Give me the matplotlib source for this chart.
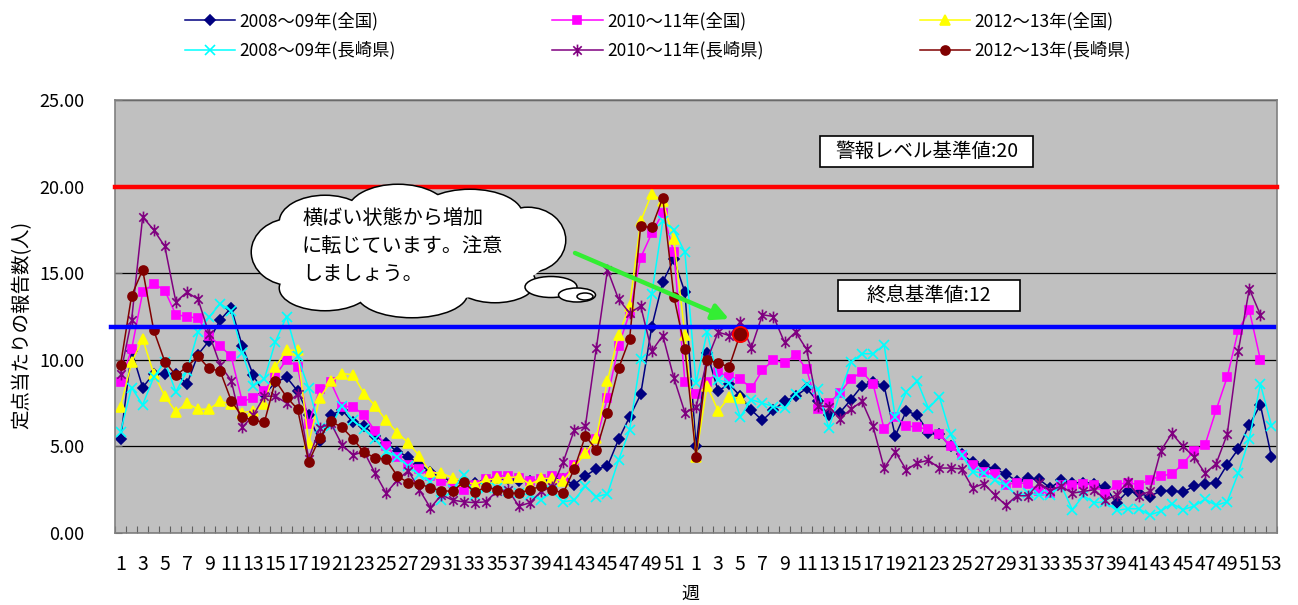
import matplotlib
matplotlib.use('Agg')
import matplotlib.pyplot as plt
from matplotlib.patches import Ellipse, Rectangle
from matplotlib.path import Path
import numpy as np

plt.rcParams['font.family'] = ['Noto Sans CJK JP', 'DejaVu Sans']

# 週 (2シーズン分: 52週 + 53週)
weeks = list(range(1, 53)) + list(range(1, 54))

# 定点当たりの報告数
zenkoku_0809 = [5.4, 10.5, 8.4, 9.2, 9.2, 9.2, 8.6, 10.3, 11.1, 12.3,
                13.0, 10.8, 9.1, 8.0, 8.7, 9.0, 8.2, 6.8, 5.3, 6.8,
                7.1, 6.4, 6.2, 5.6, 5.2, 4.7, 4.4, 4.0, 3.5, 3.2,
                3.0, 2.9, 2.9, 3.0, 3.2, 3.1, 3.0, 3.0, 3.0, 3.1,
                3.1, 2.8, 3.3, 3.7, 3.85, 5.4, 6.7, 8.0, 11.9, 14.5,
                15.8, 13.9, 5.0, 10.4, 8.2, 8.6, 7.9, 7.1, 6.5, 7.1,
                7.6, 7.9, 8.35, 7.6, 6.8, 6.95, 7.7, 8.5, 8.7, 8.5,
                5.6, 7.05, 6.8, 5.8, 5.7, 5.0, 4.55, 4.1, 3.9, 3.7,
                3.4, 3.0, 3.15, 3.1, 2.6, 3.05, 2.9, 2.9, 2.85, 2.65,
                1.75, 2.4, 2.3, 2.1, 2.45, 2.45, 2.35, 2.7, 2.85, 2.9,
                3.95, 4.85, 6.25, 7.4, 4.4]
zenkoku_1011 = [8.7, 10.6, 13.9, 14.4, 14.0, 12.6, 12.5, 12.4, 11.4, 10.8,
                10.2, 7.6, 7.8, 8.2, 9.1, 10.0, 9.6, 6.3, 8.3, 8.7,
                7.3, 7.3, 6.8, 5.9, 5.0, 4.4, 3.95, 3.7, 3.3, 3.0,
                2.9, 2.5, 2.8, 3.1, 3.3, 3.3, 3.2, 3.0, 3.1, 3.3,
                3.2, 3.9, 4.6, 5.4, 7.8, 10.8, 12.7, 15.9, 17.3, 18.5,
                16.2, 8.7, 8.0, 8.7, 9.3, 9.0, 8.9, 8.35, 9.4, 10.0,
                9.8, 10.3, 9.45, 7.15, 7.5, 8.1, 8.9, 9.3, 8.6, 6.0,
                6.7, 6.2, 6.1, 6.0, 5.7, 5.0, 4.5, 3.9, 3.5, 3.4,
                2.8, 2.9, 2.85, 2.4, 2.3, 2.8, 2.8, 2.85, 2.8, 2.25,
                2.8, 2.9, 2.8, 3.05, 3.3, 3.4, 4.0, 4.75, 5.1, 7.1,
                9.0, 11.7, 12.85, 10.0]
zenkoku_1213 = [7.3, 9.85, 11.2, 9.2, 7.9, 7.0, 7.5, 7.15, 7.15, 7.6,
                7.45, 6.95, 7.05, 7.45, 9.6, 10.55, 10.55, 5.2, 7.8, 8.75,
                9.2, 9.15, 8.05, 7.35, 6.5, 5.8, 5.2, 4.45, 3.5, 3.45,
                3.2, 3.0, 2.8, 3.05, 3.15, 3.2, 3.25, 2.8, 3.15, 3.15,
                3.0, 3.8, 4.6, 5.5, 8.8, 11.45, 13.1, 18.0, 19.6, 19.15,
                16.95, 11.45, 4.4, 8.5, 7.05, 7.85, 7.8]
nagasaki_0809 = [5.85, 8.4, 7.4, 9.0, 9.9, 8.15, 9.35, 11.6, 12.45, 13.25,
                 12.8, 10.4, 8.5, 8.9, 11.05, 12.5, 10.2, 8.35, 6.05, 6.15,
                 7.35, 6.5, 6.0, 5.4, 4.7, 4.4, 3.85, 3.35, 2.95, 1.9,
                 2.5, 3.35, 2.2, 2.6, 2.6, 2.4, 2.3, 2.2, 1.9, 2.4,
                 1.8, 1.9, 2.7, 2.1, 2.25, 4.2, 5.95, 10.05, 13.8, 18.0,
                 17.5, 16.2, 8.65, 11.6, 8.85, 8.65, 6.7, 7.7, 7.5, 7.3,
                 7.2, 8.05, 8.6, 8.3, 6.05, 8.05, 9.85, 10.35, 10.35, 10.85,
                 6.7, 8.15, 8.75, 7.2, 7.85, 5.7, 4.5, 3.55, 3.45, 3.05,
                 2.75, 2.15, 2.3, 2.2, 2.2, 2.75, 1.35, 2.15, 1.75, 1.8,
                 1.3, 1.4, 1.4, 1.05, 1.25, 1.7, 1.35, 1.55, 1.95, 1.6,
                 1.8, 3.45, 5.45, 8.6, 6.2]
nagasaki_1011 = [9.2, 12.3, 18.25, 17.5, 16.55, 13.35, 13.9, 13.5, 11.5, 9.7,
                 8.8, 6.1, 6.8, 7.9, 7.9, 7.5, 8.0, 4.3, 6.05, 6.35,
                 5.1, 4.5, 4.7, 3.45, 2.3, 3.05, 3.6, 2.5, 1.45, 2.2,
                 1.9, 1.8, 1.75, 1.8, 2.4, 2.5, 1.55, 1.75, 2.4, 2.65,
                 4.1, 5.95, 6.15, 10.7, 15.2, 13.5, 12.7, 13.1, 10.5, 11.4,
                 8.95, 6.95, 7.25, 10.0, 11.6, 11.4, 12.2, 10.7, 12.6, 12.5,
                 11.0, 11.6, 10.6, 7.35, 7.3, 6.6, 7.15, 7.6, 6.15, 3.75,
                 4.7, 3.65, 4.05, 4.2, 3.75, 3.75, 3.7, 2.6, 2.85, 2.2,
                 1.6, 2.15, 2.15, 2.9, 2.45, 2.7, 2.3, 2.4, 2.5, 1.9,
                 2.2, 2.95, 2.15, 2.4, 4.75, 5.75, 5.0, 4.4, 3.45, 4.0,
                 5.7, 10.5, 14.1, 12.6]
nagasaki_1213 = [9.7, 13.7, 15.2, 11.7, 9.9, 9.1, 9.6, 10.2, 9.5, 9.35,
                 7.65, 6.7, 6.5, 6.4, 8.8, 7.85, 7.15, 4.1, 5.5, 6.45,
                 6.1, 5.45, 4.65, 4.35, 4.25, 3.3, 2.9, 2.85, 2.6, 2.45,
                 2.4, 2.95, 2.35, 2.65, 2.5, 2.3, 2.3, 2.5, 2.7, 2.5,
                 2.3, 3.7, 5.6, 4.8, 6.95, 9.5, 11.2, 17.7, 17.65, 19.35,
                 13.65, 10.65, 4.4, 10.0, 9.8, 9.6, 11.5]

alarm_level = 20.0
end_level = 11.9

# Excel風のアスタリスクマーカー
star = Path([(-1, -1), (1, 1), (-1, 1), (1, -1), (0, -1.4), (0, 1.4)],
            [Path.MOVETO, Path.LINETO] * 3)

series = [
    ('2008～09年(全国)', zenkoku_0809, '#000080', 'D', 5.5),
    ('2010～11年(全国)', zenkoku_1011, '#FF00FF', 's', 6),
    ('2012～13年(全国)', zenkoku_1213, '#FFFF00', '^', 7.5),
    ('2008～09年(長崎県)', nagasaki_0809, '#00FFFF', 'x', 7),
    ('2010～11年(長崎県)', nagasaki_1011, '#800080', star, 8.5),
    ('2012～13年(長崎県)', nagasaki_1213, '#800000', 'o', 6.5),
]

fig = plt.figure(figsize=(12.98, 6.05), dpi=100)
ax = fig.add_axes([115 / 1298, 1 - 533 / 605, 1162 / 1298, 433 / 605])
ax.set_facecolor('#C0C0C0')

lines = {}
for label, vals, color, marker, ms in series:
    x = np.arange(len(vals))
    mfc = 'none' if marker in ('x',) or marker is star else color
    ln, = ax.plot(x, vals, color=color, lw=1.1, marker=marker, ms=ms,
                  mfc=mfc, mec=color, mew=1.2, label=label, zorder=2)
    lines[label] = ln

# 最新週を強調
ax.plot(len(nagasaki_1213) - 1, nagasaki_1213[-1], 'o', ms=11,
        mfc='#800000', mec='red', mew=1.3, zorder=4)

# 基準線
ax.plot([-0.5, 104.5], [alarm_level, alarm_level], color='#FF0000', lw=3.2,
        zorder=3, clip_on=False)
ax.plot([-0.85, 104.2], [end_level, end_level], color='#0000FF', lw=3.2,
        zorder=3, clip_on=False)

ax.set_xlim(-0.5, 104.5)
ax.set_ylim(0, 25)
ax.set_yticks(np.arange(0, 26, 5))
ax.set_yticklabels([f'{v:.2f}' for v in np.arange(0, 26, 5)])
ax.yaxis.grid(True, color='black', lw=0.9)
ax.set_axisbelow(True)

idx = np.arange(0, len(weeks), 2)
ax.set_xticks(idx)
ax.set_xticklabels([str(weeks[i]) for i in idx])
ax.set_xticks(np.arange(-0.5, len(weeks), 1), minor=True)
ax.tick_params(axis='x', which='major', length=0, pad=15, labelsize=14)
ax.tick_params(axis='x', which='minor', length=5, direction='in',
               color='#606060', width=0.8)
ax.tick_params(axis='y', length=5, direction='in', pad=22, labelsize=13,
               color='#606060')
for sp in ax.spines.values():
    sp.set_color('#808080')
    sp.set_linewidth(1.2)

fig.text(22 / 1298, 1 - 325 / 605, '定点当たりの報告数(人)', rotation=90,
         ha='center', va='center', fontsize=14)
fig.text(690 / 1298, 1 - 594 / 605, '週', ha='center', va='center', fontsize=13)

order = [0, 3, 1, 4, 2, 5]
handles = [lines[series[i][0]] for i in order]
fig.legend(handles, [h.get_label() for h in handles], ncol=3,
           loc='upper left', bbox_to_anchor=(185 / 1298, 1 - 12 / 605),
           frameon=False, fontsize=12.5, handlelength=2.9, handletextpad=0.25,
           columnspacing=9.0, labelspacing=0.62, borderpad=0, borderaxespad=0)

# 注記（吹き出し・テキストボックス・矢印）
ov = fig.add_axes([0, 0, 1, 1], zorder=5)
ov.set_xlim(0, 1298)
ov.set_ylim(605, 0)
ov.axis('off')

lobes = [(292, 252, 80, 66), (325, 222, 90, 52), (398, 212, 100, 54),
         (470, 215, 104, 50), (528, 240, 74, 64), (495, 282, 80, 40),
         (412, 293, 110, 48), (325, 288, 90, 44)]
for cx, cy, w, h in lobes:
    ov.add_patch(Ellipse((cx, cy), w, h, fc='white', ec='black', lw=2.2))
for cx, cy, w, h in lobes + [(410, 252, 280, 100)]:
    ov.add_patch(Ellipse((cx, cy), w, h, fc='white', ec='none'))
for cx, cy, w, h in [(551, 287, 52, 21), (577, 295, 37, 14), (585, 296.5, 16, 7)]:
    ov.add_patch(Ellipse((cx, cy), w, h, fc='white', ec='black', lw=1.1))

for ty, txt in zip([218, 247, 275], ['横ばい状態から増加', 'に転じています。注意', 'しましょう。']):
    ov.text(302, ty, txt, ha='left', va='center', fontsize=14.5)

ov.add_patch(Rectangle((820, 136), 213, 31, fc='white', ec='black', lw=1.2))
ov.text(926.5, 151.5, '警報レベル基準値:20', ha='center', va='center', fontsize=14)
ov.add_patch(Rectangle((838, 280), 182, 31, fc='white', ec='black', lw=1.2))
ov.text(929, 295.5, '終息基準値:12', ha='center', va='center', fontsize=14)

ov.annotate('', xy=(729, 319), xytext=(575, 253),
            arrowprops=dict(arrowstyle='-|>', color='#33EE33', lw=3.2,
                            mutation_scale=24, shrinkA=0, shrinkB=0))

fig.savefig('out.png', dpi=100)
